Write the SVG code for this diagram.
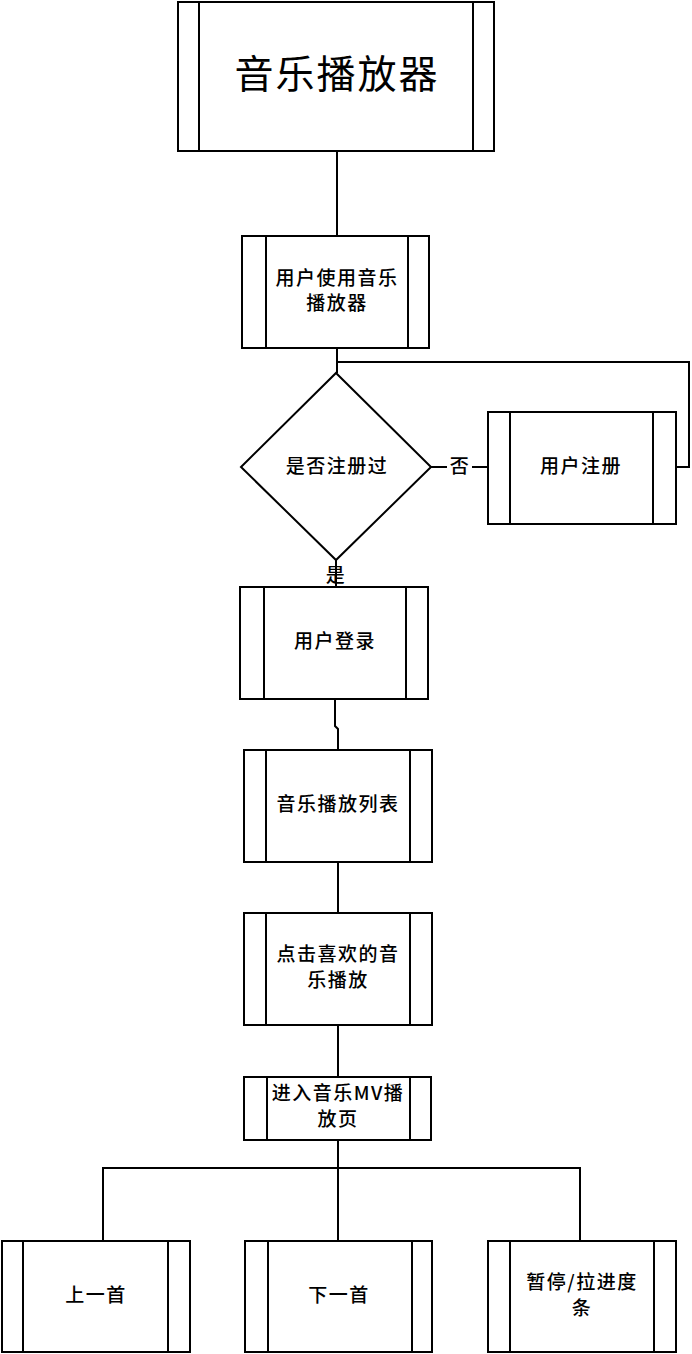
<svg xmlns="http://www.w3.org/2000/svg" width="692" height="1354" viewBox="0 0 692 1354">
<style>
.b{fill:#fff;stroke:#000;stroke-width:2}
.l{fill:none;stroke:#000;stroke-width:2}
.t{font-family:"Noto Sans CJK SC","Noto Sans",sans-serif;font-size:19px;font-weight:500;fill:#000;text-anchor:middle;letter-spacing:1.5px}
.big{font-size:39px;font-weight:400;letter-spacing:2px}
</style>
<rect width="692" height="1354" fill="#fff"/>
<g id="connectors">
<path class="l" d="M337 151V236"/>
<path class="l" d="M337 348V373"/>
<path class="l" d="M337 362H689V467H676"/>
<path class="l" d="M431 467H447M472 467H488"/>
<path class="l" d="M336 560V587"/>
<path class="l" d="M335 699V726L338 729V750"/>
<path class="l" d="M338 862V913"/>
<path class="l" d="M338 1025V1077"/>
<path class="l" d="M338 1140V1241"/>
<path class="l" d="M103 1241V1168H580V1241"/>
</g>
<g id="n1"><rect class="b" x="178" y="2" width="316" height="149"/><path class="l" d="M199 2V151M473 2V151"/><text class="t big" x="337" y="88">音乐播放器</text></g>
<g id="n2"><rect class="b" x="242" y="236" width="187" height="112"/><path class="l" d="M266 236V348M408 236V348"/><text class="t" x="337" y="285">用户使用音乐</text><text class="t" x="337" y="310">播放器</text></g>
<g id="n3"><polygon class="b" points="336,373 431,467 336,560 241,467"/><text class="t" x="337" y="473">是否注册过</text></g>
<g id="lab-no"><text class="t" x="460" y="473">否</text></g>
<g id="lab-yes"><text class="t" x="336" y="582">是</text></g>
<g id="n4"><rect class="b" x="488" y="412" width="188" height="112"/><path class="l" d="M510 412V524M653 412V524"/><text class="t" x="581" y="473">用户注册</text></g>
<g id="n5"><rect class="b" x="240" y="587" width="188" height="112"/><path class="l" d="M264 587V699M406 587V699"/><text class="t" x="335" y="648">用户登录</text></g>
<g id="n6"><rect class="b" x="244" y="750" width="188" height="112"/><path class="l" d="M266 750V862M410 750V862"/><text class="t" x="338" y="811">音乐播放列表</text></g>
<g id="n7"><rect class="b" x="244" y="913" width="188" height="112"/><path class="l" d="M266 913V1025M410 913V1025"/><text class="t" x="338" y="961">点击喜欢的音</text><text class="t" x="338" y="987">乐播放</text></g>
<g id="n8"><rect class="b" x="244" y="1077" width="187" height="63"/><path class="l" d="M267 1077V1140M410 1077V1140"/><text class="t" x="338" y="1100">进入音乐MV播</text><text class="t" x="338" y="1126">放页</text></g>
<g id="n9"><rect class="b" x="2" y="1241" width="188" height="111"/><path class="l" d="M23 1241V1352M168 1241V1352"/><text class="t" x="96" y="1302">上一首</text></g>
<g id="n10"><rect class="b" x="245" y="1241" width="187" height="111"/><path class="l" d="M268 1241V1352M412 1241V1352"/><text class="t" x="339" y="1302">下一首</text></g>
<g id="n11"><rect class="b" x="488" y="1241" width="188" height="111"/><path class="l" d="M510 1241V1352M654 1241V1352"/><text class="t" x="582" y="1289">暂停/拉进度</text><text class="t" x="582" y="1315">条</text></g>
</svg>
